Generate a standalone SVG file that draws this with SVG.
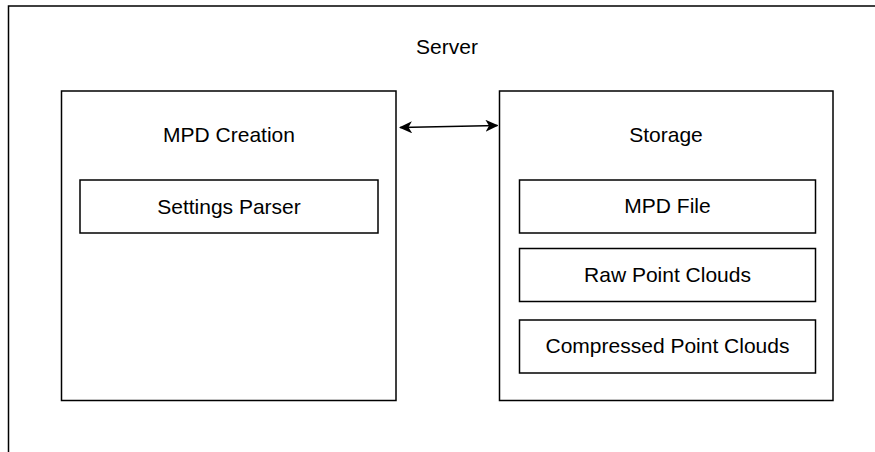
<svg xmlns="http://www.w3.org/2000/svg" width="875" height="452" viewBox="0 0 875 452">
<style>
.box{fill:#fff;stroke:#000;stroke-width:1.5}
.t{font-family:"Liberation Sans",Arial,sans-serif;font-size:21px;fill:#000;text-anchor:middle}
.edge{stroke:#000;stroke-width:1.5;fill:none}
</style>
<defs>
<marker id="ah" viewBox="0 0 13 12" refX="12" refY="6" markerWidth="13" markerHeight="12" markerUnits="userSpaceOnUse" orient="auto-start-reverse">
<path d="M0,0 L13,6 L0,12 L3.5,6 Z" fill="#000"/>
</marker>
</defs>
<g id="server">
<path d="M8.5,452 V6 H875" class="edge"/>
<text class="t" x="447" y="54">Server</text>
</g>
<g id="mpd-creation">
<rect class="box" x="61.5" y="91" width="334.5" height="309.5"/>
<text class="t" x="229" y="142">MPD Creation</text>
</g>
<g id="settings-parser">
<rect class="box" x="80" y="180" width="298" height="53"/>
<text class="t" x="229" y="213.5">Settings Parser</text>
</g>
<g id="storage">
<rect class="box" x="499.5" y="91" width="333.5" height="309.5"/>
<text class="t" x="666" y="142">Storage</text>
</g>
<g id="mpd-file">
<rect class="box" x="519.5" y="180" width="296" height="53"/>
<text class="t" x="667.5" y="213">MPD File</text>
</g>
<g id="raw-point-clouds">
<rect class="box" x="519.5" y="248.5" width="296" height="53"/>
<text class="t" x="667.5" y="282">Raw Point Clouds</text>
</g>
<g id="compressed-point-clouds">
<rect class="box" x="519.5" y="320" width="296" height="53"/>
<text class="t" x="667.5" y="353">Compressed Point Clouds</text>
</g>
<g id="connectors">
<line class="edge" x1="400" y1="127.5" x2="497.5" y2="125.5" marker-start="url(#ah)" marker-end="url(#ah)"/>
</g>
</svg>
